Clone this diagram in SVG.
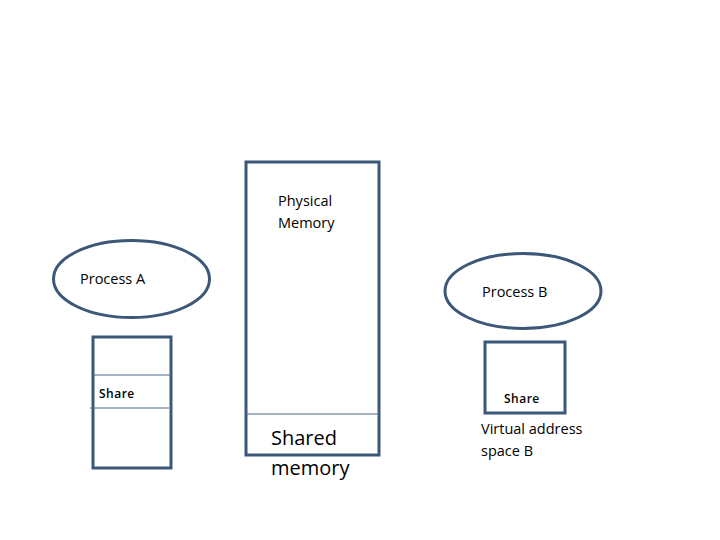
<svg xmlns="http://www.w3.org/2000/svg" width="720" height="540" viewBox="0 0 720 540">
<style>
.s{fill:#fff;stroke:#3b5878;stroke-width:3}
.l{stroke:#4a6a8c;stroke-width:1}
text{font-family:"Open Sans","DejaVu Sans",sans-serif;fill:#000}
.m{font-size:14.5px}
.sh{font-size:12px;font-weight:600;letter-spacing:0.5px}
.b{font-size:20px}
</style>
<rect width="720" height="540" fill="#fff"/>
<g id="processA">
<ellipse class="s" cx="131.5" cy="279" rx="78" ry="38.5"/>
<text class="m" x="80" y="284">Process A</text>
</g>
<g id="vasA">
<rect class="s" x="93" y="337" width="78" height="131"/>
<line class="l" x1="93" y1="375" x2="171" y2="375"/>
<line class="l" x1="90" y1="408" x2="169" y2="408"/>
<text class="sh" x="99" y="398">Share</text>
</g>
<g id="physical">
<rect class="s" x="246" y="162" width="133" height="293"/>
<line class="l" x1="246" y1="414" x2="379" y2="414"/>
<text class="m" x="278" y="206">Physical</text>
<text class="m" x="278" y="228">Memory</text>
<text class="b" x="271" y="445">Shared</text>
<text class="b" x="271" y="475">memory</text>
</g>
<g id="processB">
<ellipse class="s" cx="523" cy="291" rx="78" ry="37.5"/>
<text class="m" x="482" y="297">Process B</text>
</g>
<g id="vasB">
<rect class="s" x="485" y="342" width="80" height="71"/>
<text class="sh" x="504" y="403">Share</text>
<text class="m" x="481" y="434">Virtual address</text>
<text class="m" x="481" y="456">space B</text>
</g>
<g id="connectors"/>
</svg>
